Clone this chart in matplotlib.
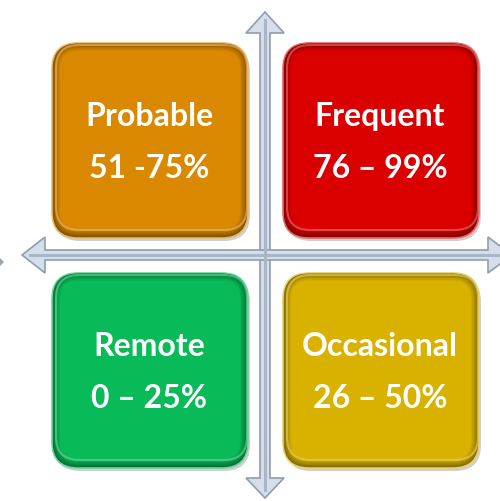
import matplotlib
matplotlib.use("Agg")
import matplotlib.pyplot as plt
from matplotlib.patches import FancyBboxPatch, Polygon
import matplotlib.colors as mcolors
import numpy as np

# ---- data ----
categories = ["Probable", "Frequent", "Remote", "Occasional"]
ranges = ["51 -75%", "76 \u2013 99%", "0 \u2013 25%", "26 \u2013 50%"]
box_colors = ["#DA8800", "#DA0000", "#08BA58", "#D9B200"]
grid_col = [0, 1, 0, 1]
grid_row = [0, 0, 1, 1]

W, H = 500, 501
fig = plt.figure(figsize=(W / 100, H / 100), dpi=100)
ax = fig.add_axes([0, 0, 1, 1])
ax.set_xlim(0, W)
ax.set_ylim(H, 0)
ax.axis("off")

col_x = [52, 283]
row_y = [43, 273]
bw, bh = 196, 195
rad = 26


def shade(c, f):
    r, g, b = mcolors.to_rgb(c)
    if f < 1:
        return (r * f, g * f, b * f)
    f = f - 1
    return (r + (1 - r) * f, g + (1 - g) * f, b + (1 - b) * f)


arrow_fill = "#D6DEE9"
arrow_edge = "#8E9DB0"

# vertical arrow
vx = 265
sw = 5
v_poly = [(vx, 12), (vx + 19, 33), (vx + sw, 33), (vx + sw, 478),
          (vx + 19, 478), (vx, 498), (vx - 19, 478), (vx - sw, 478),
          (vx - sw, 33), (vx - 19, 33)]
ax.add_patch(Polygon(v_poly, closed=True, fc=arrow_fill, ec=arrow_edge, lw=1.2, zorder=2))
ax.plot([vx, vx], [20, 490], color="#A9B6C6", lw=2.2, zorder=3)

# horizontal arrow
hy = 255
h_poly = [(22, hy), (45, hy - 18), (45, hy - sw), (488, hy - sw), (488, hy - 18),
          (512, hy), (488, hy + 18), (488, hy + sw), (45, hy + sw), (45, hy + 18)]
ax.add_patch(Polygon(h_poly, closed=True, fc=arrow_fill, ec=arrow_edge, lw=1.2, zorder=2))
ax.plot([30, 505], [hy, hy], color="#A9B6C6", lw=2.2, zorder=3)
ax.add_patch(Polygon([(0, 258), (4, 262), (0, 266)], closed=True, fc="#9AA6B4", ec="none", zorder=2))

for cat, rng, col, gc, gr in zip(categories, ranges, box_colors, grid_col, grid_row):
    x0, y0 = col_x[gc], row_y[gr]
    # shadow
    ax.add_patch(FancyBboxPatch((x0 + 2, y0 + 3), bw, bh,
                                boxstyle=f"round,pad=0,rounding_size={rad}",
                                fc="#00000030", ec="none", zorder=4))
    # outer rim (dark)
    ax.add_patch(FancyBboxPatch((x0, y0), bw, bh,
                                boxstyle=f"round,pad=0,rounding_size={rad}",
                                fc=shade(col, 0.55), ec=shade(col, 1.4), lw=1.2, zorder=5))
    # bevel layers
    n = 8
    for i in range(n):
        t = (i + 1) / n
        ins = 1 + i * 1.0
        c = shade(col, 0.6 + 0.4 * t)
        ax.add_patch(FancyBboxPatch((x0 + ins, y0 + ins - 0.5), bw - 2 * ins, bh - 2 * ins,
                                    boxstyle=f"round,pad=0,rounding_size={max(rad - ins, 4)}",
                                    fc=c, ec="none", zorder=6 + i))
    # highlight on top-right
    ax.add_patch(FancyBboxPatch((x0 + 4, y0 + 2), bw - 5, bh - 10,
                                boxstyle=f"round,pad=0,rounding_size={rad - 3}",
                                fc="none", ec=shade(col, 1.45), lw=1.5, alpha=0.6, zorder=14))
    ax.add_patch(FancyBboxPatch((x0 + 9, y0 + 8), bw - 18, bh - 18,
                                boxstyle=f"round,pad=0,rounding_size={rad - 8}",
                                fc=col, ec="none", zorder=15))
    cx = x0 + bw / 2 - 1
    ax.text(cx, y0 + 73, cat, ha="center", va="center", color="white",
            fontsize=23, fontweight="bold", family="Lato", zorder=20)
    ax.text(cx, y0 + 126, rng, ha="center", va="center", color="white",
            fontsize=23, fontweight="bold", family="Lato", zorder=20)

fig.savefig("out.png", dpi=100)
